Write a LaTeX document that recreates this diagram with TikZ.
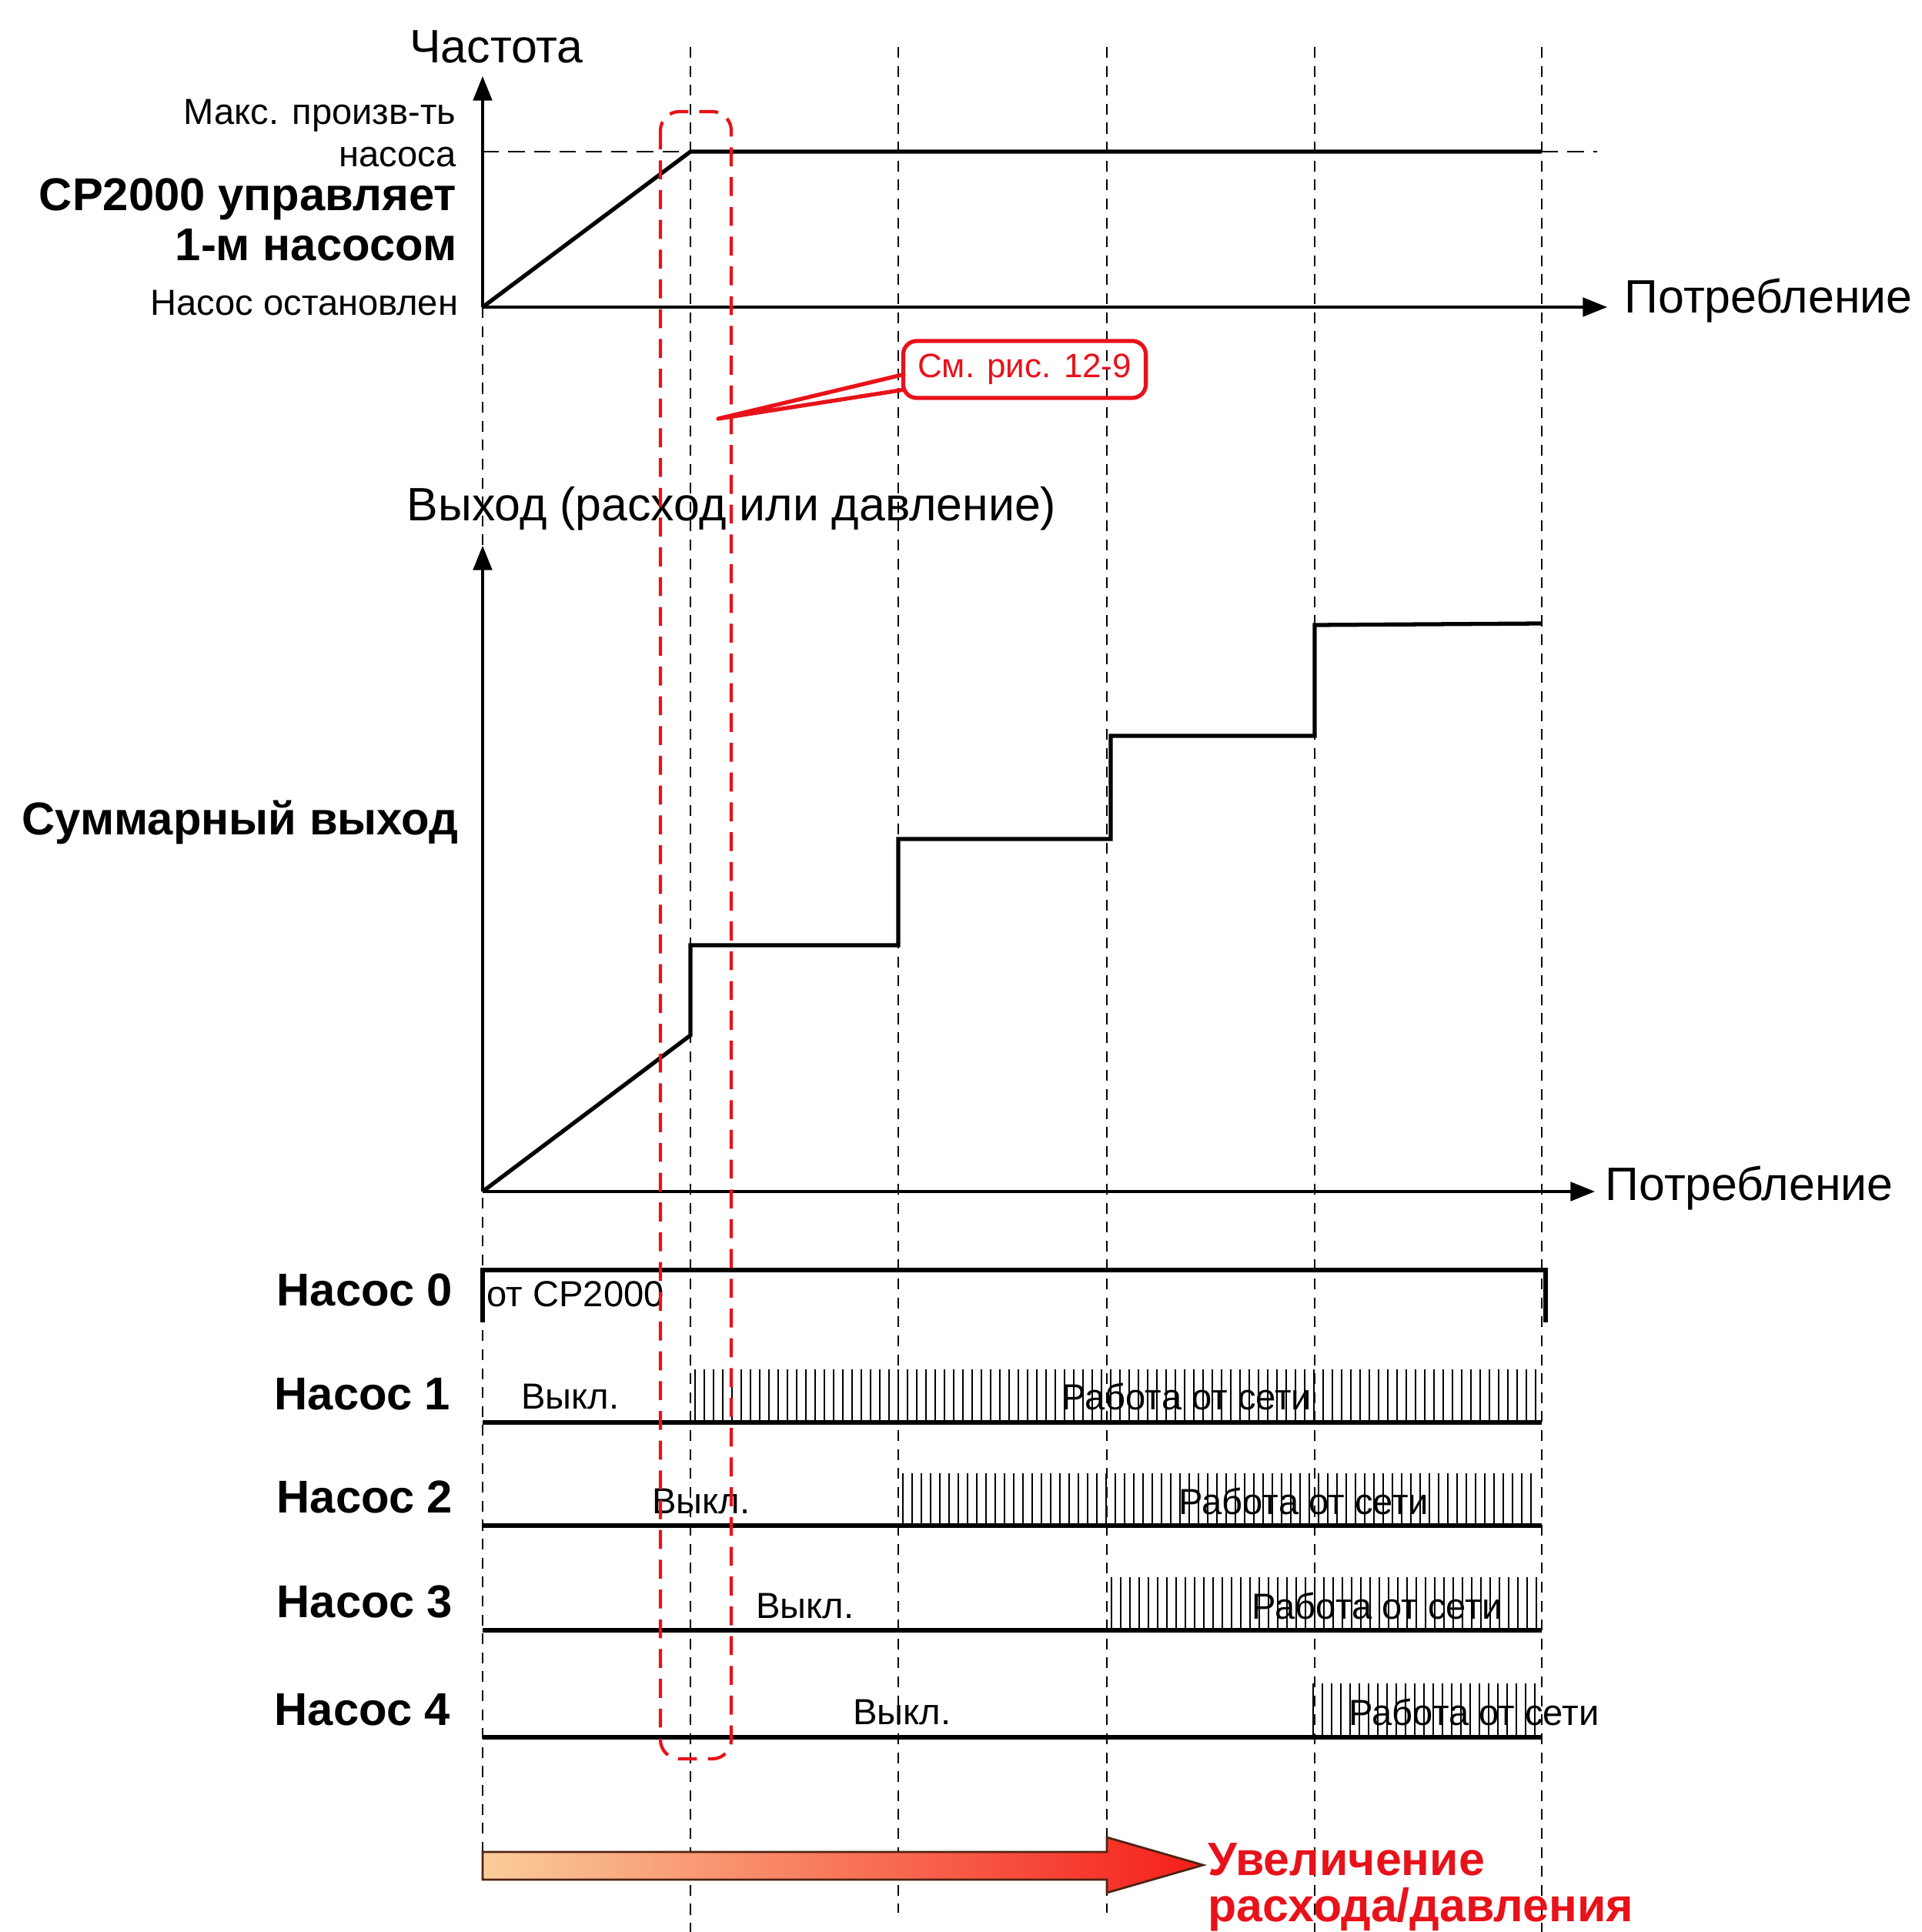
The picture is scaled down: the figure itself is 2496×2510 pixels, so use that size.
\documentclass[tikz,border=0pt]{standalone}
\usepackage{fontspec}
\setmainfont{Liberation Sans}
\usetikzlibrary{arrows.meta}
\definecolor{rd}{RGB}{232,18,26}
\definecolor{peach}{RGB}{250,205,155}
\definecolor{hotred}{RGB}{245,30,25}
\definecolor{brn}{RGB}{80,35,20}
\begin{document}
\begin{tikzpicture}[x=0.01cm,y=-0.01cm,
  big/.style={font=\fontsize{17.3}{20}\selectfont, inner sep=0pt},
  bigb/.style={font=\bfseries\fontsize{17}{20}\selectfont, inner sep=0pt},
  small/.style={font=\fontsize{13.4}{15}\selectfont, inner sep=0pt},
  thk/.style={line width=1.5pt},
  axisl/.style={line width=0.9pt,-{Triangle[length=9pt,width=7pt]}},
  vdash/.style={line width=0.6pt, dash pattern=on 4pt off 3pt},
  reddash/.style={rd, line width=1.2pt, dash pattern=on 7pt off 4pt, rounded corners=7pt},
  hatchl/.style={line width=0.75pt},
]
\path[use as bounding box] (0,0) rectangle (2496,2510);

% ---------- vertical dashed guide lines ----------
\coordinate (g0a) at (627,399);  \coordinate (g0b) at (627,2405);
\coordinate (g1a) at (897,61);   \coordinate (g1b) at (897,2510);
\coordinate (g2a) at (1167,61);  \coordinate (g2b) at (1167,2485);
\coordinate (g3a) at (1438,61);  \coordinate (g3b) at (1438,2485);
\coordinate (g4a) at (1708,61);  \coordinate (g4b) at (1708,2510);
\coordinate (g5a) at (2003,61);  \coordinate (g5b) at (2003,2510);
\foreach \i in {0,...,5} { \draw[vdash] (g\i a) -- (g\i b); }

% ---------- top plot ----------
\coordinate (O1) at (627,399);
\coordinate (Y1) at (627,99);
\coordinate (X1) at (2088,399);
\coordinate (M0) at (627,197);
\coordinate (M1) at (897,197);
\coordinate (M2) at (2003,197);
\coordinate (M3) at (2075,197);
\draw[axisl] (O1) -- (Y1);
\draw[axisl] (O1) -- (X1);
\draw[line width=0.7pt, dash pattern=on 6pt off 3.5pt] (M0) -- (M1);
\draw[line width=0.7pt, dash pattern=on 6pt off 3.5pt] (M2) -- (M3);
\draw[thk] (O1) -- (M1) -- (M2);

\node[big] (freq) at (645,61) {Частота};
\node[small, anchor=east] (maxa) at (593,150) {Макс. произв-ть};
\node[small, anchor=east] (maxb) at (593,204) {насоса};
\node[bigb, anchor=east] (cp1) at (594,259) {CP2000 управляет};
\node[bigb, anchor=east] (cp2) at (594,318) {1-м насосом};
\node[small, anchor=east] (stop) at (596,394) {Насос остановлен};
\node[big, anchor=west] (cons1) at (2110,391) {Потребление};

% callout
\node[draw=rd, line width=1.5pt, rounded corners=5pt, inner sep=0pt,
      minimum width=3.15cm, minimum height=0.74cm, text=rd,
      font=\fontsize{12.5}{14}\selectfont] (call) at (1331,480) {См. рис. 12-9\hspace{0.25cm}};
\coordinate (ctip) at (933,544);
\coordinate (cl1) at (1176,486);
\coordinate (cl2) at (1176,506);
\draw[rd, line width=1.5pt, line join=round] (cl1) -- (ctip) -- (cl2);

% ---------- middle plot ----------
\coordinate (O2) at (627,1548);
\coordinate (Y2) at (627,709);
\coordinate (X2) at (2072,1548);
\draw[axisl] (O2) -- (Y2);
\draw[axisl] (O2) -- (X2);
\node[big, anchor=west] (outl) at (528,661) {Выход (расход или давление)};
\node[bigb, anchor=east] (sum) at (596,1068) {Суммарный выход};
\node[big, anchor=west] (cons2) at (2085,1543) {Потребление};

\coordinate (s1) at (897,1345);
\coordinate (s2) at (897,1228);
\coordinate (s3) at (1167,1228);
\coordinate (s4) at (1167,1090);
\coordinate (s5) at (1443,1090);
\coordinate (s6) at (1443,956);
\coordinate (s7) at (1708,956);
\coordinate (s8) at (1708,812);
\coordinate (s9) at (2003,810);
\draw[thk, line join=miter] (O2) -- (s1) -- (s2) -- (s3) -- (s4) -- (s5) -- (s6) -- (s7) -- (s8) -- (s9);

% ---------- pump rows ----------
\coordinate (p0a) at (627,1718);
\coordinate (p0b) at (627,1650);
\coordinate (p0c) at (2008,1650);
\coordinate (p0d) at (2008,1718);
\draw[thk] (p0a) -- (p0b) -- (p0c) -- (p0d);
\node[small, anchor=west] (cp2000) at (632,1681) {от CP2000};

\foreach \n/\yb in {1/1848, 2/1982, 3/2118, 4/2257} {
  \coordinate (b\n a) at (627,\yb);
  \coordinate (b\n b) at (2003,\yb);
  \draw[thk] (b\n a) -- (b\n b);
}

% hatching
\foreach \x in {903,915,...,1995} { \draw[hatchl] (\x,1779) -- (\x,1848); }
\foreach \x in {1173,1185,...,2000} { \draw[hatchl] (\x,1914) -- (\x,1982); }
\foreach \x in {1444,1456,...,1996} { \draw[hatchl] (\x,2049) -- (\x,2118); }
\foreach \x in {1706,1718,...,1996} { \draw[hatchl] (\x,2187) -- (\x,2257); }

\node[bigb, anchor=east] (n0) at (589,1676) {Насос 0};
\node[bigb, anchor=east] (n1) at (586,1811) {Насос 1};
\node[bigb, anchor=east] (n2) at (589,1945) {Насос 2};
\node[bigb, anchor=east] (n3) at (589,2081) {Насос 3};
\node[bigb, anchor=east] (n4) at (586,2221) {Насос 4};

\node[small] (off1) at (741,1815) {Выкл.};
\node[small] (off2) at (911,1950) {Выкл.};
\node[small] (off3) at (1046,2086) {Выкл.};
\node[small] (off4) at (1172,2224) {Выкл.};
\node[small] (on1) at (1542,1814) {Работа от сети};
\node[small] (on2) at (1694,1950) {Работа от сети};
\node[small] (on3) at (1789,2086) {Работа от сети};
\node[small] (on4) at (1915,2224) {Работа от сети};

% red dashed highlight
\draw[reddash] (858,145) rectangle (950,2285);

% ---------- bottom arrow ----------
\coordinate (a1) at (627,2406);
\coordinate (a2) at (1438,2406);
\coordinate (a3) at (1438,2387);
\coordinate (a4) at (1563,2423);
\coordinate (a5) at (1438,2459);
\coordinate (a6) at (1438,2442);
\coordinate (a7) at (627,2442);
\draw[brn, line width=0.8pt, left color=peach, right color=hotred, line join=miter]
  (a1) -- (a2) -- (a3) -- (a4) -- (a5) -- (a6) -- (a7) -- cycle;
\node[anchor=north west, inner sep=0pt, text=rd, align=left,
      font=\bfseries\fontsize{17.3}{17}\selectfont] (incr) at (1569,2394)
  {Увеличение\\расхода/давления};
\end{tikzpicture}
\end{document}
